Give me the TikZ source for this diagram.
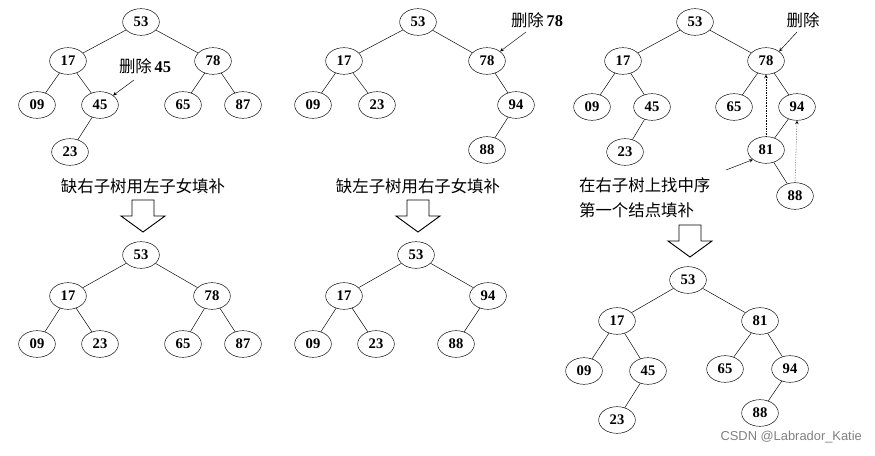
\documentclass[tikz,border=0pt]{standalone}
\usepackage{fontspec}
\usetikzlibrary{shapes.geometric,calc}
\setmainfont{Liberation Serif}
\newfontfamily\cjk{Noto Sans CJK SC}
\newfontfamily\wm{Liberation Sans}
\begin{document}
\begin{tikzpicture}[x=0.03cm,y=-0.03cm,
  nd/.style={draw,ellipse,minimum width=1.1cm,minimum height=0.8cm,inner sep=0pt,font=\fontsize{12.5}{12.5}\selectfont\bfseries},
  lbl/.style={font=\cjk\fontsize{14}{21}\selectfont},
  ed/.style={draw,thin},
  ptr/.style={-stealth,thin},
  dptr/.style={-stealth,thin,densely dotted}]
\useasboundingbox (0,0) rectangle (875,456);
% tree 1
\node[nd] (a53) at (141,22) {53};
\node[nd] (a17) at (68,61) {17};
\node[nd] (a78) at (213,61) {78};
\node[nd] (a09) at (37,105) {09};
\node[nd] (a45) at (100,105) {45};
\node[nd] (a65) at (183,105) {65};
\node[nd] (a87) at (243,105) {87};
\node[nd] (a23) at (70,152) {23};
\draw[ed] (a53)--(a17) (a53)--(a78) (a17)--(a09) (a17)--(a45) (a45)--(a23) (a78)--(a65) (a78)--(a87);
\node[lbl] (la) at (145,66) {删除\,\fontspec{Liberation Serif}\bfseries 45};
\coordinate (la1) at (134,80);
\draw[ptr] (la1) -- (a45.north east);
\node[lbl] (ta) at (143,186) {缺右子树用左子女填补};
\coordinate (ha) at (143,216);
% bottom 1
\node[nd] (b53) at (141,255) {53};
\node[nd] (b17) at (68,296) {17};
\node[nd] (b78) at (212,296) {78};
\node[nd] (b09) at (37,344) {09};
\node[nd] (b23) at (100,344) {23};
\node[nd] (b65) at (183,344) {65};
\node[nd] (b87) at (243,344) {87};
\draw[ed] (b53)--(b17) (b53)--(b78) (b17)--(b09) (b17)--(b23) (b78)--(b65) (b78)--(b87);
% tree 2
\node[nd] (c53) at (418,22) {53};
\node[nd] (c17) at (344,61) {17};
\node[nd] (c78) at (487,61) {78};
\node[nd] (c09) at (313,105) {09};
\node[nd] (c23) at (377,105) {23};
\node[nd] (c94) at (516,105) {94};
\node[nd] (c88) at (487,150) {88};
\draw[ed] (c53)--(c17) (c53)--(c78) (c17)--(c09) (c17)--(c23) (c78)--(c94) (c94)--(c88);
\node[lbl] (lc) at (537,20) {删除\,\fontspec{Liberation Serif}\bfseries 78};
\coordinate (lc1) at (526,32);
\draw[ptr] (lc1) -- (c78.north east);
\node[lbl] (tc) at (418,186) {缺左子树用右子女填补};
% bottom 2
\node[nd] (d53) at (416,255) {53};
\node[nd] (d17) at (344,296) {17};
\node[nd] (d94) at (488,296) {94};
\node[nd] (d09) at (313,344) {09};
\node[nd] (d23) at (376,344) {23};
\node[nd] (d88) at (456,344) {88};
\draw[ed] (d53)--(d17) (d53)--(d94) (d17)--(d09) (d17)--(d23) (d94)--(d88);
% tree 3
\node[nd] (e53) at (695,22) {53};
\node[nd] (e17) at (623,61) {17};
\node[nd] (e78) at (766,61) {78};
\node[nd] (e09) at (592,107) {09};
\node[nd] (e45) at (652,107) {45};
\node[nd] (e65) at (734,107) {65};
\node[nd] (e94) at (797,107) {94};
\node[nd] (e23) at (625,152) {23};
\node[nd] (e81) at (766,150) {81};
\node[nd] (e88) at (795,196) {88};
\draw[ed] (e53)--(e17) (e53)--(e78) (e17)--(e09) (e17)--(e45) (e45)--(e23) (e78)--(e65) (e78)--(e94) (e94)--(e81) (e81)--(e88);
\node[lbl] (le) at (803,20) {删除};
\coordinate (le1) at (797,32);
\draw[ptr] (le1) -- (e78.north east);
\draw[dptr] (e81.north) -- (e78.south);
\draw[dptr] (e88.north) -- (e94.south);
\node[lbl,align=left,anchor=west] (te) at (575,198) {在右子树上找中序\\第一个结点填补};
\coordinate (te1) at (726,170);
\draw[ptr] (te1) -- (e81.south west);
% bottom 3
\node[nd] (f53) at (688,280) {53};
\node[nd] (f17) at (617,321) {17};
\node[nd] (f81) at (760,321) {81};
\node[nd] (f09) at (584,371) {09};
\node[nd] (f45) at (648,371) {45};
\node[nd] (f65) at (725,369) {65};
\node[nd] (f94) at (790,369) {94};
\node[nd] (f23) at (617,420) {23};
\node[nd] (f88) at (760,413) {88};
\draw[ed] (f53)--(f17) (f53)--(f81) (f17)--(f09) (f17)--(f45) (f45)--(f23) (f81)--(f65) (f81)--(f94) (f94)--(f88);
% arrows
\coordinate (hc) at (418,216);
\coordinate (he) at (690,241);
\foreach \p in {ha,hc,he}{
 \draw[thick,line join=miter] ($(\p)+(-11,-16)$) -- ++(22,0) -- ++(0,16) -- ++(11,0) -- ++(-22,16) -- ++(-22,-16) -- ++(11,0) -- cycle;}
\node[font=\wm\fontsize{11}{11}\selectfont,text=gray,anchor=east] (wm) at (866,437) {CSDN @Labrador\_Katie};
\end{tikzpicture}
\end{document}
